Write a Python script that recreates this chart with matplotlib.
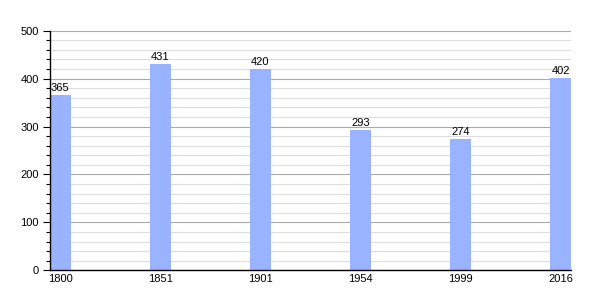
import matplotlib
matplotlib.use("Agg")
import matplotlib.pyplot as plt
from matplotlib.ticker import MultipleLocator

years = ["1800", "1851", "1901", "1954", "1999", "2016"]
values = [365, 431, 420, 293, 274, 402]

plt.rcParams['font.family'] = ['Liberation Sans', 'DejaVu Sans']

fig = plt.figure(figsize=(6, 3), dpi=100)
ax = fig.add_axes([50/600, 29.7/300, 521/600, 239.6/300])

w = 0.207
x = list(range(len(years)))
bars = ax.bar(x, values, width=w, color='#99b3ff', zorder=3)
for xi, v in zip(x, values):
    ax.annotate(str(v), (xi, v), xytext=(0, 1.5), textcoords='offset points',
                ha='center', va='bottom', fontsize=8, zorder=4)

ax.set_xlim(-w/2, len(years) - 1 + w/2)
ax.set_ylim(0, 500)
ax.set_xticks(x)
ax.set_xticklabels(years, fontsize=8)
ax.yaxis.set_major_locator(MultipleLocator(100))
ax.yaxis.set_minor_locator(MultipleLocator(20))
ax.tick_params(axis='y', which='major', length=5, width=0.8, labelsize=8, direction='out', pad=3)
ax.tick_params(axis='y', which='minor', length=3, width=0.8, direction='out')
ax.tick_params(axis='x', length=0, labelsize=8, pad=3)
ax.grid(axis='y', which='major', color='#aaaaaa', linewidth=0.8, zorder=1)
ax.grid(axis='y', which='minor', color='#dddddd', linewidth=0.8, zorder=1)
for s in ['top', 'right']:
    ax.spines[s].set_visible(False)
ax.spines['left'].set_linewidth(1.0)
ax.spines['bottom'].set_linewidth(1.0)
ax.spines['left'].set_zorder(5)
ax.spines['bottom'].set_zorder(5)

fig.savefig("out.png", dpi=100)
